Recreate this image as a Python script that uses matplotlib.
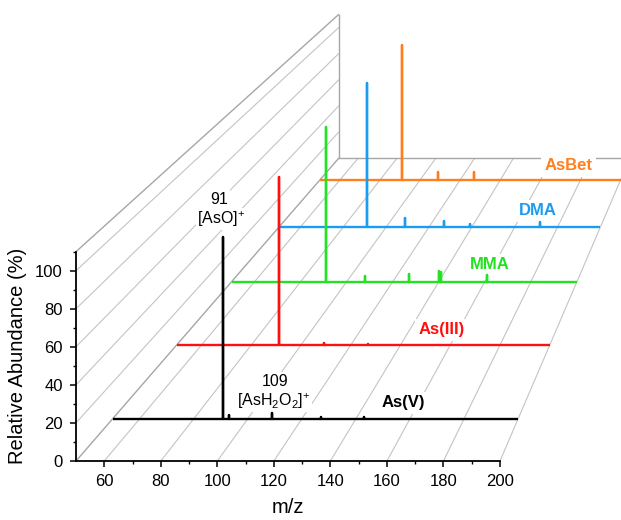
import numpy as np
import matplotlib
matplotlib.use("Agg")
import matplotlib.pyplot as plt
from matplotlib.ticker import FixedLocator

plt.rcParams['font.family'] = ['Liberation Sans', 'DejaVu Sans']
plt.rcParams['mathtext.fontset'] = 'custom'
plt.rcParams['mathtext.rm'] = 'Liberation Sans'
plt.rcParams['mathtext.it'] = 'Liberation Sans:italic'
plt.rcParams['mathtext.bf'] = 'Liberation Sans:bold'

# ---------------- data ----------------
species = ['As(V)', 'As(III)', 'MMA', 'DMA', 'AsBet']
colors = ['#000000', '#ff1010', '#22e222', '#1a9cf0', '#ff7f1e']
mz_range = [50, 200]
peaks_asv = [91, 93, 109, 127, 143]
ints_asv = [100, 2.0, 3.0, 1.0, 1.0]
peaks_as3 = [91, 109, 127]
ints_as3 = [100, 1.2, 0.6]
peaks_mma = [91, 108, 127, 140, 141, 161]
ints_mma = [100, 3.5, 5.0, 7.0, 6.0, 4.0]
peaks_dma = [91, 109, 127, 139, 172]
ints_dma = [100, 6.5, 4.5, 2.5, 3.5]
peaks_asbet = [91, 109, 127]
ints_asbet = [100, 6.0, 6.0]
peak_lists = [peaks_asv, peaks_as3, peaks_mma, peaks_dma, peaks_asbet]
int_lists = [ints_asv, ints_as3, ints_mma, ints_dma, ints_asbet]

ann_mz = [91, 109]
ann_num = ['91', '109']
ann_ion = [r'[AsO]$^{+}$', r'[AsH$_2$O$_2$]$^{+}$']

xticks_major = [60, 80, 100, 120, 140, 160, 180, 200]
yticks_major = [0, 20, 40, 60, 80, 100]
ymax = 110

# ---------------- layout / projection ----------------
depths = [0.5, 1.5, 2.5, 3.5, 4.5]
depth_back = 5.0
VX, VY = 346.8, 508.1      # vanishing point in front-plane units
K = 0.0911

def proj(mz, ab, d):
    s = 1.0 / (1.0 + K * np.asarray(d, dtype=float))
    return VX + (np.asarray(mz, dtype=float) - VX) * s, VY + (np.asarray(ab, dtype=float) - VY) * s

label_pos = [(157.6, 6.5), (156.6, 6.4), (162.2, 8.1), (170.9, 8.4), (173.8, 7.2)]

fig = plt.figure(figsize=(6.21, 5.20), dpi=100)
ax = fig.add_axes([76 / 621, 59 / 520, 424 / 621, ymax * 1.903 / 520])
ax.set_xlim(*mz_range)
ax.set_ylim(0, ymax)

# ---- grid / box ----
grid_c = '#c4c4c4'
edge_c = '#a6a6a6'
for x in xticks_major:
    X, Y = proj([x, x], [0, 0], [0, depth_back])
    ax.plot(X, Y, color=grid_c, lw=0.8, zorder=1, clip_on=False)
for y in yticks_major[1:]:
    X, Y = proj([mz_range[0]] * 2, [y, y], [0, depth_back])
    ax.plot(X, Y, color=grid_c, lw=0.8, zorder=1, clip_on=False)
# edges
X, Y = proj([mz_range[0]] * 2, [0, 0], [0, depth_back])
ax.plot(X, Y, color=edge_c, lw=1.0, zorder=1, clip_on=False)
X, Y = proj([mz_range[0]] * 2, [ymax, ymax], [0, depth_back])
ax.plot(X, Y, color=edge_c, lw=1.0, zorder=1, clip_on=False)
X, Y = proj([mz_range[0]] * 2, [0, ymax], [depth_back] * 2)
ax.plot(X, Y, color=edge_c, lw=1.0, zorder=1, clip_on=False)
X, Y = proj([mz_range[0], mz_range[1] + 10], [0, 0], [depth_back] * 2)
ax.plot(X, Y, color=edge_c, lw=1.0, zorder=1, clip_on=False)

# ---- spectra (back to front) ----
for i in reversed(range(len(species))):
    xs = [mz_range[0]]
    ys = [0.0]
    for p, h in sorted(zip(peak_lists[i], int_lists[i])):
        xs += [p, p, p]
        ys += [0.0, h, 0.0]
    xs.append(mz_range[1])
    ys.append(0.0)
    X, Y = proj(xs, ys, [depths[i]] * len(xs))
    ax.plot(X, Y, color=colors[i], lw=1.7, zorder=3 + (5 - i), clip_on=False,
            solid_joinstyle='round', solid_capstyle='butt')
    lx, ly = proj(label_pos[i][0], label_pos[i][1], depths[i])
    ax.text(lx, ly, species[i], color=colors[i], fontsize=12, fontweight='bold',
            ha='center', va='baseline', zorder=2, clip_on=False,
            bbox=dict(facecolor='white', edgecolor='none', pad=2.5))

# ---- annotations on As(V) ----
ann_off = [((-4, 33), (-2, 13)), ((3, 27.6), (1.5, 7.6))]
for j, m in enumerate(ann_mz):
    k = peak_lists[0].index(m)
    px, py = proj(m, int_lists[0][k], depths[0])
    (dx1, dy1), (dx2, dy2) = ann_off[j]
    ax.annotate(ann_num[j], xy=(px, py), xytext=(dx1, dy1), textcoords='offset pixels',
                ha='center', va='baseline', fontsize=11.5, zorder=2, annotation_clip=False,
                bbox=dict(facecolor='white', edgecolor='none', pad=1))
    ax.annotate(ann_ion[j], xy=(px, py), xytext=(dx2, dy2), textcoords='offset pixels',
                ha='center', va='baseline', fontsize=11.5, zorder=2, annotation_clip=False,
                bbox=dict(facecolor='white', edgecolor='none', pad=1))

# ---- axes styling ----
for s in ['top', 'right']:
    ax.spines[s].set_visible(False)
for s in ['left', 'bottom']:
    ax.spines[s].set_linewidth(1.3)
    ax.spines[s].set_zorder(10)
ax.patch.set_visible(False)
ax.xaxis.set_major_locator(FixedLocator(xticks_major))
ax.xaxis.set_minor_locator(FixedLocator([70, 90, 110, 130, 150, 170, 190]))
ax.yaxis.set_major_locator(FixedLocator(yticks_major))
ax.yaxis.set_minor_locator(FixedLocator([10, 30, 50, 70, 90, 110]))
ax.tick_params(which='major', direction='out', length=4.5, width=1.1, labelsize=12, pad=5)
ax.tick_params(which='minor', direction='out', length=2.5, width=1.0)
ax.set_xlabel('m/z', fontsize=14.5, labelpad=6)
ax.set_ylabel('Relative Abundance (%)', fontsize=14.5, labelpad=6)

fig.savefig('out.png', dpi=100)
